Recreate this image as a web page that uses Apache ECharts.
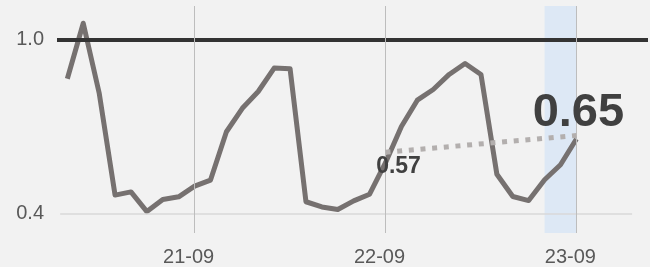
<!DOCTYPE html>
<html>
<head>
<meta charset="utf-8">
<script src="https://cdn.jsdelivr.net/npm/echarts@6/dist/echarts.min.js"></script>
<style>
  html, body { margin: 0; padding: 0; background: #f2f2f2; }
  #chart { width: 650px; height: 267px; }
</style>
</head>
<body>
<div id="chart"></div>
<script>
// months on the x axis (YY-MM)
var months = [
  '21-01', '21-02', '21-03', '21-04', '21-05', '21-06', '21-07', '21-08', '21-09', '21-10', '21-11', '21-12',
  '22-01', '22-02', '22-03', '22-04', '22-05', '22-06', '22-07', '22-08', '22-09', '22-10', '22-11', '22-12',
  '23-01', '23-02', '23-03', '23-04', '23-05', '23-06', '23-07', '23-08', '23-09'
];
var values = [
  0.865, 1.057, 0.816, 0.463, 0.474, 0.406, 0.448, 0.457, 0.494, 0.515, 0.682, 0.763,
  0.821, 0.902, 0.900, 0.440, 0.422, 0.413, 0.443, 0.466, 0.575, 0.700, 0.791, 0.828,
  0.880, 0.918, 0.880, 0.535, 0.458, 0.444, 0.516, 0.568, 0.657
];
var xTickLabels = ['21-09', '22-09', '23-09'];
var yTickLabels = [0.4, 1.0];
var targetValue = 1.0;
var highlightMonths = ['23-07', '23-09'];
// dotted comparison line between the two labelled months
var trendMonths = ['22-09', '23-09'];
var trendValues = [0.611, 0.669];

var idx = function (m) { return months.indexOf(m); };
// cut to 2 decimals, like the labels
var cut = function (v) { return (Math.floor(v * 100 + 1e-9) / 100).toFixed(2); };

var myChart = echarts.init(document.getElementById('chart'));
var font = 'Liberation Sans, Arial, sans-serif';

var trendLabels = [
  { show: true, position: 'inside', offset: [13, 14], fontSize: 23, fontWeight: 'bold', color: '#404040', fontFamily: font },
  { show: true, position: 'inside', offset: [2, -22], fontSize: 47, fontWeight: 'bold', color: '#404040', fontFamily: font }
];

var option = {
  backgroundColor: '#f2f2f2',
  animation: false,
  grid: { left: 57, right: 2, top: 6, bottom: 34 },
  xAxis: {
    type: 'value',
    min: -0.65,
    max: 36.5,
    axisLine: { show: false },
    axisTick: { show: false },
    splitLine: { show: false },
    axisLabel: {
      customValues: xTickLabels.map(idx),
      formatter: function (v) { return months[Math.round(v)]; },
      fontSize: 20,
      color: '#595959',
      fontFamily: font,
      margin: 14,
      padding: [0, 12, 0, 0]
    }
  },
  yAxis: {
    type: 'value',
    min: 0.332,
    max: 1.1165,
    axisLine: { show: false },
    axisTick: { show: false },
    splitLine: { show: false },
    axisLabel: {
      customValues: yTickLabels,
      formatter: function (v) { return v.toFixed(1); },
      fontSize: 20,
      color: '#595959',
      fontFamily: font,
      margin: 13
    }
  },
  series: [
    {
      name: 'value',
      type: 'line',
      data: values.map(function (v, i) { return [i, v]; }),
      showSymbol: false,
      lineStyle: { color: '#767170', width: 5, join: 'round' },
      markArea: {
        silent: true,
        itemStyle: { color: '#dde8f5' },
        data: [[{ xAxis: idx(highlightMonths[0]) }, { xAxis: idx(highlightMonths[1]) }]]
      },
      markLine: {
        silent: true,
        symbol: 'none',
        label: { show: false },
        data: [
          [
            { coord: [-0.45, yTickLabels[0]], lineStyle: { color: '#d9d9d9', width: 1.5, type: 'solid' } },
            { coord: [35.5, yTickLabels[0]] }
          ],
          { yAxis: targetValue, lineStyle: { color: '#333333', width: 4, type: 'solid' } }
        ].concat(xTickLabels.map(function (m) {
          return { xAxis: idx(m), lineStyle: { color: '#bdbdbd', width: 1, type: 'solid' } };
        }))
      }
    },
    {
      name: 'trend',
      type: 'line',
      z: 6,
      data: trendMonths.map(function (m, i) {
        return { value: [idx(m), trendValues[i]], label: trendLabels[i] };
      }),
      symbol: 'circle',
      symbolSize: 0,
      showSymbol: true,
      lineStyle: { color: '#b3afae', width: 5, type: [5, 6.7], cap: 'butt' },
      label: {
        show: true,
        formatter: function (p) { return cut(values[idx(trendMonths[p.dataIndex])]); }
      }
    }
  ]
};
myChart.setOption(option, true);
</script>
</body>
</html>
